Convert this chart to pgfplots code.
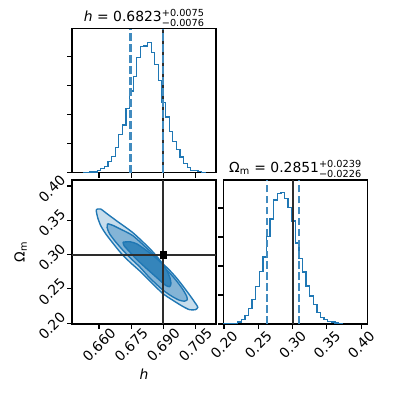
\documentclass[border=0pt]{standalone}
\usepackage{fontspec}
\setmainfont{DejaVu Sans}
\usepackage{pgfplots}
\pgfplotsset{compat=1.18}
\definecolor{cblue}{RGB}{31,119,180}
\definecolor{truth}{RGB}{45,45,45}
\newcommand{\pmerr}[2]{{\fontsize{7}{6}\selectfont\begin{tabular}[c]{@{}l@{}}#1\\#2\end{tabular}}}

\pgfplotsset{
  corner/.style={
    scale only axis, width=103.68pt, height=103.68pt, anchor=south west,
    axis line style={line width=0.8pt},
    tick align=outside, major tick length=3.5pt,
    every tick/.style={black, line width=0.8pt},
    xtick pos=bottom, ytick pos=left,
    tick label style={font=\fontsize{10}{12}\selectfont},
    label style={font=\fontsize{10}{12}\selectfont},
    title style={font=\fontsize{10}{12}\selectfont, yshift=-9.5pt},
  },
  xrot/.style={xticklabel style={yshift=-11.5pt, rotate=45, anchor=center}},
  yrot/.style={yticklabel style={xshift=-11pt, yshift=-2pt, rotate=45, anchor=center}},
  hline/.style={cblue, line width=1pt, const plot mark left},
  qline/.style={cblue!85, line width=1.5pt, dash pattern=on 5.5pt off 2.4pt},
  tline/.style={truth, line width=1.5pt},
}

\begin{document}
\begin{tikzpicture}
\path[use as bounding box] (0,0) rectangle (285.12pt,285.12pt);

% h marginal
\begin{axis}[corner, at={(51.84pt,160.704pt)},
  xmin=0.6474, xmax=0.7146, ymin=0, ymax=144,
  xtick={0.660,0.675,0.690,0.705}, xticklabels={},
  ytick={0,29.15,58.3,87.45,116.6}, yticklabels={},
  title={\textit{h} = 0.6823\pmerr{+0.0075}{−0.0076}}]
\addplot[hline] coordinates {
(0.65244,0) (0.65412,0.3) (0.65580,0.6) (0.65748,0.8) (0.65916,2) (0.66084,4)
(0.66252,6) (0.66420,11.3) (0.66588,16) (0.66756,25) (0.66924,38) (0.67092,47.6)
(0.67260,64.3) (0.67428,81.6) (0.67596,96) (0.67764,115) (0.67932,126) (0.68100,126.6)
(0.68268,130) (0.68436,120) (0.68604,108) (0.68772,92) (0.68940,70) (0.69108,55.6)
(0.69276,41) (0.69444,31) (0.69612,23) (0.69780,15.6) (0.69948,9.3) (0.70116,5)
(0.70284,2.3) (0.70452,2.3) (0.70620,1.3) (0.70788,0.5) (0.70956,0)
};
\addplot[tline] coordinates {(0.69,0) (0.69,144)};
\addplot[qline] coordinates {(0.6747,0) (0.6747,144)};
\addplot[qline] coordinates {(0.6898,0) (0.6898,144)};
\end{axis}

% joint
\begin{axis}[corner, xrot, yrot, at={(51.84pt,51.84pt)},
  xmin=0.6474, xmax=0.7146, ymin=0.1988, ymax=0.4088,
  xtick={0.660,0.675,0.690,0.705}, xticklabels={0.660,0.675,0.690,0.705},
  ytick={0.20,0.25,0.30,0.35,0.40}, yticklabels={0.20,0.25,0.30,0.35,0.40},
  xlabel={\textit{h}}, ylabel={Ω\textsubscript{m}},
  xlabel style={at={(axis description cs:0.5,-0.275)}, anchor=north},
  ylabel style={at={(axis description cs:-0.28,0.5)}, anchor=south}]
\addplot[draw=cblue, line width=1pt, fill=cblue!25, smooth, tension=0.4] coordinates {
(0.6589,0.3662) (0.6608,0.3665) (0.6631,0.3611) (0.6681,0.3495) (0.6758,0.3320)
(0.6828,0.3115) (0.6859,0.3013) (0.6896,0.2875) (0.6929,0.2773) (0.6961,0.2663)
(0.6994,0.2532) (0.7022,0.2415) (0.7045,0.2313) (0.7061,0.2233) (0.7050,0.2197)
(0.7022,0.2197) (0.6989,0.2248) (0.6944,0.2335) (0.6896,0.2437) (0.6836,0.2620)
(0.6789,0.2765) (0.6747,0.2882) (0.6705,0.3013) (0.6663,0.3174) (0.6631,0.3305)
(0.6608,0.3422) (0.6594,0.3538) (0.6587,0.3640) (0.6589,0.3662)
};
\addplot[draw=cblue, line width=1pt, fill=cblue!55, smooth, tension=0.4] coordinates {
(0.6640,0.3451) (0.6663,0.3429) (0.6696,0.3378) (0.6758,0.3276) (0.6828,0.3079)
(0.6859,0.2984) (0.6896,0.2846) (0.6929,0.2736) (0.6961,0.2620) (0.6989,0.2503)
(0.7008,0.2401) (0.7012,0.2342) (0.6998,0.2321) (0.6975,0.2335) (0.6943,0.2386)
(0.6896,0.2488) (0.6836,0.2663) (0.6789,0.2824) (0.6747,0.2948) (0.6705,0.3086)
(0.6673,0.3203) (0.6649,0.3305) (0.6638,0.3392) (0.6640,0.3451)
};
\addplot[draw=cblue, line width=1pt, fill=cblue!90, smooth, tension=0.4] coordinates {
(0.6712,0.3181) (0.6743,0.3188) (0.6775,0.3159) (0.6820,0.3064) (0.6867,0.2948)
(0.6896,0.2860) (0.6917,0.2765) (0.6931,0.2663) (0.6936,0.2576) (0.6929,0.2532)
(0.6910,0.2554) (0.6867,0.2671) (0.6820,0.2802) (0.6775,0.2933) (0.6738,0.3057)
(0.6717,0.3130) (0.6712,0.3181)
};
\addplot[tline] coordinates {(0.69,0.1988) (0.69,0.4088)};
\addplot[tline] coordinates {(0.6474,0.30) (0.7146,0.30)};
\addplot[only marks, mark=square*, mark size=2.5pt, black] coordinates {(0.69,0.30)};
\end{axis}

% Omega_m marginal
\begin{axis}[corner, xrot, at={(160.704pt,51.84pt)},
  xmin=0.1988, xmax=0.4088, ymin=0, ymax=143.5,
  xtick={0.20,0.25,0.30,0.35,0.40}, xticklabels={0.20,0.25,0.30,0.35,0.40},
  ytick={0,28.9,57.8,86.7,115.6}, yticklabels={},
  title={Ω\textsubscript{m} = 0.2851\pmerr{+0.0239}{−0.0226}}]
\addplot[hline] coordinates {
(0.19900,0) (0.20425,0.3) (0.20950,0.7) (0.21475,0.8) (0.22000,2) (0.22525,4.7)
(0.23050,8.7) (0.23575,15.7) (0.24100,24.7) (0.24625,37.3) (0.25150,52.3) (0.25675,66.7)
(0.26200,87.3) (0.26725,104.5) (0.27250,123.5) (0.27775,129.8) (0.28300,130.8) (0.28825,124.8)
(0.29350,115.8) (0.29875,102.5) (0.30400,80.8) (0.30925,65) (0.31450,52) (0.31975,38)
(0.32500,28) (0.33025,19.5) (0.33550,11.5) (0.34075,6.5) (0.34600,4.2) (0.35125,2.5)
(0.35650,1.8) (0.36175,1) (0.36700,0.8) (0.37225,0)
};
\addplot[tline] coordinates {(0.30,0) (0.30,143.5)};
\addplot[qline] coordinates {(0.2625,0) (0.2625,143.5)};
\addplot[qline] coordinates {(0.3090,0) (0.3090,143.5)};
\end{axis}
\end{tikzpicture}
\end{document}
